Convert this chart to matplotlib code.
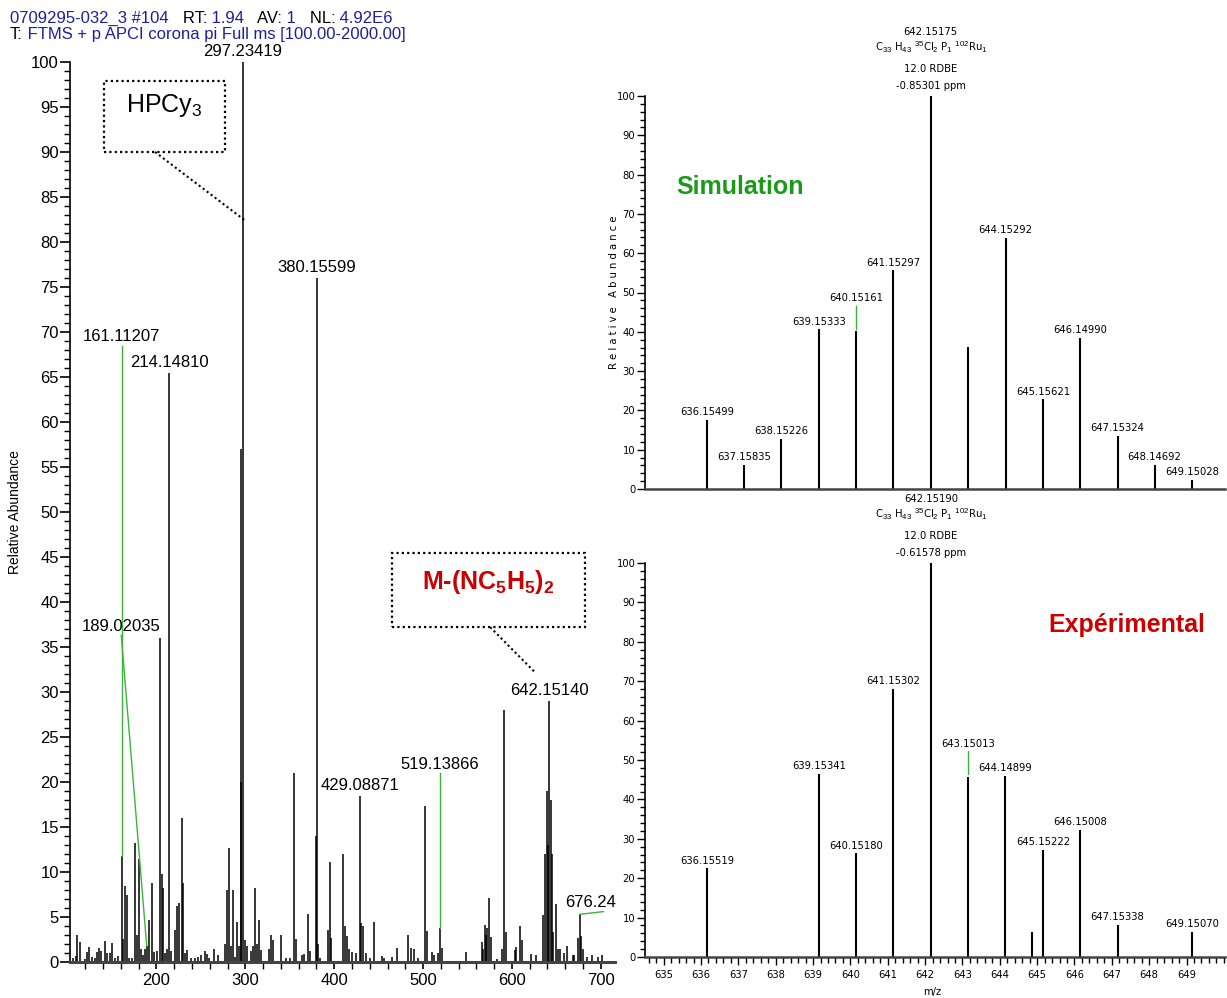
import matplotlib.pyplot as plt
from matplotlib.patches import Rectangle
from matplotlib.text import Annotation
from matplotlib.ticker import MultipleLocator

W, H = 1227, 998

SANS = 'Liberation Sans'
NARROW = 'DejaVu Sans'   # used with fontstretch='condensed'

plt.rcParams['font.family'] = [SANS, 'DejaVu Sans']
plt.rcParams['mathtext.fontset'] = 'custom'
plt.rcParams['mathtext.rm'] = SANS
plt.rcParams['mathtext.bf'] = SANS + ':bold'
plt.rcParams['mathtext.default'] = 'rm'

BLUE = '#1f1f9e'
GREEN_LINE = '#3cb43c'

# ---- full scan (m/z, relative abundance %) ----
full_mz = [106.6, 108.9, 111.1, 113.4, 120.0, 122.3, 124.5, 127.6, 130.3, 132.6,
           135.8, 138.0, 142.4, 144.7, 148.2, 150.5, 153.6, 156.3, 161.11, 162.6,
           164.9, 167.1, 169.4, 173.0, 176.3, 178.5, 180.6, 182.9, 185.1, 187.3,
           189.02, 191.6, 194.7, 197.1, 200.2, 204.0, 206.1, 207.4, 209.7, 211.9,
           214.15, 216.4, 220.9, 223.1, 225.3, 228.5, 229.8, 232.0, 234.3, 238.8,
           243.2, 246.4, 250.0, 254.5, 256.7, 259.0, 264.8, 268.8, 276.9, 279.2,
           281.4, 283.6, 285.8, 288.1, 290.3, 292.6, 294.8, 295.6, 297.23, 299.3,
           301.5, 306.0, 308.2, 310.5, 312.7, 315.0, 317.2, 326.2, 328.4, 330.7,
           340.5, 346.3, 350.8, 355.3, 356.6, 364.2, 366.5, 371.0, 372.3, 379.4,
           380.16, 382.2, 384.5, 393.3, 395.6, 396.9, 410.0, 412.6, 414.4, 417.1,
           420.3, 424.8, 429.09, 430.5, 432.3, 435.9, 440.4, 445.2, 453.3, 455.5,
           464.5, 471.0, 482.9, 486.5, 489.7, 494.2, 502.2, 504.4, 509.8, 512.0,
           516.5, 519.14, 521.0, 548.0, 566.0, 567.3, 569.5, 570.9, 572.4, 574.6,
           576.9, 583.6, 589.4, 591.6, 593.8, 603.7, 605.0, 609.4, 611.2, 621.5,
           626.9, 635.3, 637.5, 639.8, 641.1, 642.15, 643.5, 644.8, 645.8, 649.4,
           651.6, 653.9, 658.3, 661.5, 668.2, 670.3, 674.5, 676.24, 677.8, 680.5,
           685.0, 690.6, 697.0, 701.6]
full_int = [0.5, 0.7, 3.0, 2.2, 0.3, 1.1, 1.7, 0.6, 0.5, 1.1,
            1.6, 1.2, 2.3, 1.0, 1.0, 2.1, 0.5, 0.7, 11.8, 2.6,
            8.4, 7.4, 0.5, 0.5, 13.2, 3.0, 11.5, 1.4, 0.8, 1.5,
            1.8, 4.7, 8.8, 1.1, 1.2, 36.0, 9.8, 8.2, 1.0, 1.5,
            65.5, 1.2, 3.6, 6.2, 6.6, 16.0, 8.8, 1.0, 1.3, 0.5,
            0.5, 0.6, 0.8, 1.2, 0.9, 0.5, 1.5, 0.8, 2.0, 8.0,
            12.7, 1.8, 8.0, 0.6, 4.4, 1.8, 57.0, 20.0, 100.0, 2.5,
            1.8, 1.2, 1.8, 8.2, 2.0, 4.7, 1.3, 1.5, 3.0, 2.4,
            3.0, 0.5, 0.5, 21.0, 2.6, 0.8, 0.9, 5.3, 1.2, 14.0,
            76.0, 2.0, 0.5, 3.6, 11.1, 2.7, 12.0, 4.0, 2.9, 1.5,
            1.1, 1.0, 18.5, 4.3, 4.0, 1.0, 0.5, 4.5, 0.7, 0.5,
            0.6, 1.6, 3.0, 1.6, 1.4, 0.5, 17.3, 3.5, 1.1, 0.8,
            1.0, 3.8, 1.6, 1.1, 2.2, 1.5, 4.1, 3.0, 3.8, 7.1,
            2.8, 0.3, 1.5, 28.0, 3.3, 1.3, 1.7, 4.0, 2.5, 0.9,
            0.8, 5.2, 12.0, 19.0, 13.0, 29.0, 18.0, 12.0, 3.3, 6.5,
            1.5, 1.5, 1.0, 1.8, 0.8, 0.8, 2.7, 5.3, 2.9, 1.5,
            0.6, 0.8, 0.6, 0.8]

# labels placed straight above their peak
top_lbl = ['297.23419', '380.15599', '214.14810', '429.08871', '642.15140']
top_lbl_mz = [297.23, 380.16, 214.15, 429.09, 642.15]
top_lbl_y = [100.0, 76.0, 65.5, 18.5, 29.0]

# labels moved away from their peak, joined by a green line
off_lbl = ['161.11207', '189.02035', '519.13866']
off_peak_mz = [161.11, 189.02, 519.14]
off_peak_y = [11.8, 1.8, 3.8]
off_lbl_mz = [161.11, 160.4, 519.14]
off_lbl_y = [68.5, 36.3, 21.0]

# ---- isotope pattern, simulation ----
sim_mz = [636.15499, 637.15835, 638.15226, 639.15333, 640.15161, 641.15297,
          642.15175, 643.15, 644.15292, 645.15621, 646.14990, 647.15324,
          648.14692, 649.15028]
sim_int = [17.6, 6.1, 12.8, 40.6, 40.1, 55.6, 100.0, 36.2, 63.9, 22.8,
           38.5, 13.6, 6.1, 2.3]
sim_lbl = ['636.15499', '637.15835', '638.15226', '639.15333', '640.15161',
           '641.15297', '', '', '644.15292', '645.15621', '646.14990',
           '647.15324', '648.14692', '649.15028']
sim_lbl_lift = [0, 0, 0, 0, 6.5, 0, 0, 0, 0, 0, 0, 0, 0, 0]

# ---- isotope pattern, experiment ----
exp_mz = [636.15519, 639.15341, 640.15180, 641.15302, 642.15190, 643.15013,
          644.14899, 644.87, 645.15222, 646.15008, 647.15338, 649.15070]
exp_int = [22.5, 46.5, 26.3, 68.1, 100.0, 45.7, 45.9, 6.4, 27.1, 32.2, 8.1, 6.4]
exp_lbl = ['636.15519', '639.15341', '640.15180', '641.15302', '', '643.15013',
           '644.14899', '', '645.15222', '646.15008', '647.15338', '649.15070']
exp_lbl_lift = [0, 0, 0, 0, 0, 6.5, 0, 0, 0, 0, 0, 0]
exp_xticks = list(range(635, 650))

formula = r'C$_{33}$ H$_{43}$ $^{35}$Cl$_{2}$ P$_{1}$ $^{102}$Ru$_{1}$'
sim_head = ['642.15175', formula, '12.0 RDBE', '-0.85301 ppm']
exp_head = ['642.15190', formula, '12.0 RDBE', '-0.61578 ppm']

NARROW_KW = dict(family=NARROW, fontstretch='condensed')
ISO_FS = 8

fig = plt.figure(figsize=(W / 100, H / 100), dpi=100)


def px_axes(x0, y0, x1, y1):
    return fig.add_axes([x0 / W, 1 - y1 / H, (x1 - x0) / W, (y1 - y0) / H])


def style_axes(ax, lw_bottom):
    for s in ['top', 'right']:
        ax.spines[s].set_visible(False)
    ax.spines['left'].set_linewidth(1.2)
    ax.spines['bottom'].set_linewidth(lw_bottom)
    ax.spines['bottom'].set_color('#444444')
    ax.patch.set_alpha(0)


def chain(prev, txt, col):
    a = Annotation(txt, xy=(1, 0), xycoords=prev, color=col, fontsize=12,
                   va='bottom', ha='left', annotation_clip=False)
    fig.add_artist(a)
    return a


# ---- header ----
prev = fig.text(10 / W, 1 - 26 / H, '0709295-032_3 #104', color=BLUE,
                fontsize=12, va='bottom')
for txt, col in [('   RT:', 'black'), (' 1.94', BLUE), ('   AV:', 'black'),
                 (' 1', BLUE), ('   NL:', 'black'), (' 4.92E6', BLUE)]:
    prev = chain(prev, txt, col)
prev = fig.text(10 / W, 1 - 42 / H, 'T:', color='black', fontsize=12, va='bottom')
chain(prev, ' FTMS + p APCI corona pi Full ms [100.00-2000.00]', BLUE)

# ---- full scan ----
ax = px_axes(70, 62, 615, 962)
style_axes(ax, 2.2)
ax.vlines(full_mz, 0, full_int, color='black', lw=1.1)
ax.set_xlim(102.7, 716)
ax.set_ylim(0, 100)
ax.xaxis.set_major_locator(MultipleLocator(100))
ax.xaxis.set_minor_locator(MultipleLocator(20))
ax.yaxis.set_major_locator(MultipleLocator(5))
ax.yaxis.set_minor_locator(MultipleLocator(1))
ax.tick_params(axis='y', which='major', length=7, width=1.2, pad=1, labelsize=12)
ax.tick_params(axis='y', which='minor', length=4.5, width=1.0)
ax.tick_params(axis='x', which='major', length=5, width=1.2, pad=3, labelsize=12)
ax.tick_params(axis='x', which='minor', length=5, width=1.0)
ax.set_ylabel('Relative Abundance', fontsize=10)
ax.yaxis.set_label_coords(-0.088, 0.5)

for t, m, y in zip(top_lbl, top_lbl_mz, top_lbl_y):
    ax.annotate(t, xy=(m, y), xytext=(0, 2), textcoords='offset points',
                ha='center', va='bottom', fontsize=12, annotation_clip=False)
for t, pm, py, lm, ly in zip(off_lbl, off_peak_mz, off_peak_y, off_lbl_mz, off_lbl_y):
    ax.plot([pm, lm], [py, ly], color=GREEN_LINE, lw=1.0)
    ax.annotate(t, xy=(lm, ly), xytext=(0, 1), textcoords='offset points',
                ha='center', va='bottom', fontsize=12)
# label cut by the right edge of the plot
ax.plot([676.24, 703], [5.3, 5.6], color=GREEN_LINE, lw=1.0)
ax.annotate('676.24', xy=(660, 5.6), xytext=(0, 1), textcoords='offset points',
            ha='left', va='bottom', fontsize=12)

# annotation boxes
dot = (0, (1, 1.4))
ax.add_patch(Rectangle((0.062, 0.9), 0.222, 0.079, transform=ax.transAxes,
                       fill=False, ls=dot, lw=1.6, clip_on=False))
ax.plot([0.156, 0.321], [0.9, 0.824], transform=ax.transAxes, ls=dot, lw=1.5,
        color='black', clip_on=False)
ax.text(0.172, 0.952, r'HPCy$_{3}$', transform=ax.transAxes, fontsize=18,
        ha='center', va='center')
ax.add_patch(Rectangle((0.591, 0.372), 0.354, 0.082, transform=ax.transAxes,
                       fill=False, ls=dot, lw=1.6, clip_on=False))
ax.plot([0.771, 0.853], [0.372, 0.322], transform=ax.transAxes, ls=dot, lw=1.5,
        color='black', clip_on=False)
ax.text(0.767, 0.422, r'M-(NC$\mathbf{_{5}}$H$\mathbf{_{5}}$)$\mathbf{_{2}}$',
        transform=ax.transAxes, fontsize=18, fontweight='bold', color='#cc0000',
        ha='center', va='center')


# ---- isotope panels ----
def iso_panel(y0, y1, mz, inten, lbls, lifts, head):
    a = px_axes(645, y0, 1225, y1)
    style_axes(a, 1.8)
    a.vlines(mz, 0, inten, color='black', lw=1.5)
    a.set_xlim(634.5, 650.03)
    a.set_ylim(0, 100)
    a.yaxis.set_major_locator(MultipleLocator(10))
    a.yaxis.set_minor_locator(MultipleLocator(2))
    a.tick_params(axis='y', which='major', length=6, width=1.0, pad=1)
    a.tick_params(axis='y', which='minor', length=3.5, width=1.0)
    for lab in a.get_yticklabels():
        lab.set_fontfamily(NARROW)
        lab.set_fontstretch('condensed')
        lab.set_fontsize(ISO_FS)
    for m, h, t, lift in zip(mz, inten, lbls, lifts):
        if not t:
            continue
        if lift:
            a.plot([m, m], [h + 0.7, h + lift], color=GREEN_LINE, lw=1.0)
        a.annotate(t, xy=(m, h + lift), xytext=(0, 2), textcoords='offset points',
                   ha='center', va='bottom', fontsize=ISO_FS, annotation_clip=False,
                   **NARROW_KW)
    for txt, off in zip(head, [42.5, 29.5, 16, 3.6]):
        a.annotate(txt, xy=(642.152, 100), xytext=(0, off), textcoords='offset points',
                   ha='center', va='bottom', fontsize=ISO_FS, annotation_clip=False,
                   **NARROW_KW)
    return a


ax_sim = iso_panel(96, 489, sim_mz, sim_int, sim_lbl, sim_lbl_lift, sim_head)
ax_sim.set_xticks([])
ax_sim.set_ylabel('R e l a t i v e   A b u n d a n c e', fontsize=8, **NARROW_KW)
ax_sim.yaxis.set_label_coords(-0.045, 0.5)
ax_sim.text(0.164, 0.768, 'Simulation', transform=ax_sim.transAxes, fontsize=18,
            fontweight='bold', color='#1a9a1a', ha='center', va='center')

ax_exp = iso_panel(563, 957, exp_mz, exp_int, exp_lbl, exp_lbl_lift, exp_head)
ax_exp.set_xticks(exp_xticks)
ax_exp.xaxis.set_minor_locator(MultipleLocator(0.2))
ax_exp.tick_params(axis='x', which='major', length=6, width=1.0, pad=3)
ax_exp.tick_params(axis='x', which='minor', length=4, width=1.0)
for lab in ax_exp.get_xticklabels():
    lab.set_fontfamily(NARROW)
    lab.set_fontstretch('condensed')
    lab.set_fontsize(ISO_FS)
ax_exp.set_xlabel('m/z', fontsize=8, **NARROW_KW)
ax_exp.xaxis.set_label_coords(0.495, -0.075)
ax_exp.text(0.831, 0.843, 'Expérimental', transform=ax_exp.transAxes, fontsize=18,
            fontweight='bold', color='#cc0000', ha='center', va='center')

fig.savefig('out.png', dpi=100)
